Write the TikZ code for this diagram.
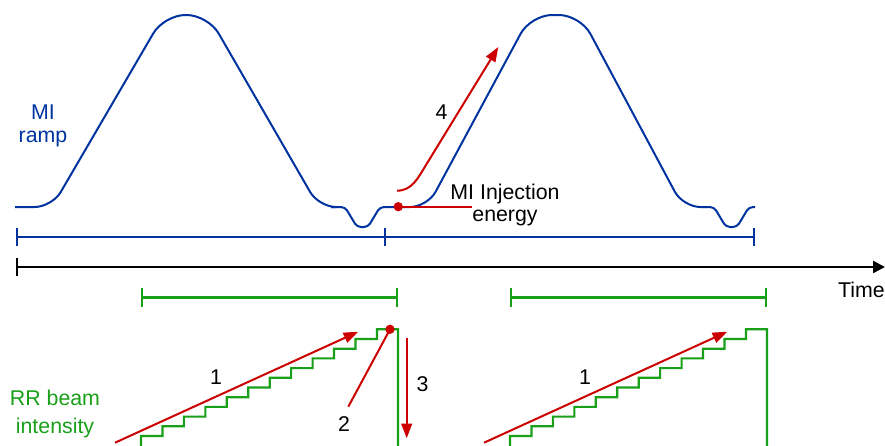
\documentclass[tikz,border=0pt]{standalone}
\usepackage{fontspec}
\setmainfont{Liberation Sans}
\usepackage{xcolor}
\usetikzlibrary{arrows.meta, positioning}

\definecolor{miblue}{RGB}{0,51,160}
\definecolor{rrgreen}{RGB}{24,160,24}
\definecolor{injred}{RGB}{204,0,0}

\begin{document}
\begin{tikzpicture}[
  x=0.75pt, y=-0.75pt,
  every node/.style={inner sep=0pt, font=\fontsize{16}{16.8}\selectfont},
  lbl/.style={align=center, anchor=base},
  ramp/.style={miblue, line width=1.5pt},
  stack/.style={rrgreen, line width=1.6pt},
  span/.style={{Bar[width=14pt]}-{Bar[width=14pt]}},
  redline/.style={injred, line width=1.5pt},
  move/.style={redline, -{Triangle[length=11pt, width=8pt]}},
  reddot/.style={circle, fill=injred, minimum size=7pt}
]
\useasboundingbox (0,0) rectangle (885,446);

% MI ramp
\foreach \st/\bl/\tl/\tr/\br/\en in {15/52/164/208/318.8/331, 386/427.4/530.7/580.3/683/700} {
  \draw[ramp, rounded corners=13pt] (\st,207) -- (\bl,207) -- ({(\bl+\tl)/2},111);
  \draw[ramp, rounded corners=16pt] ({(\bl+\tl)/2},111) -- (\tl,15) -- (\tr,15) -- ({(\tr+\br)/2},111);
  \draw[ramp, rounded corners=13pt] ({(\tr+\br)/2},111) -- (\br,207) -- (\en,207);
}
\foreach \d in {0,369}
  \draw[ramp, rounded corners=3pt] (331+\d,207) -- (345+\d,207) -- (357+\d,227) -- (368+\d,227) -- (380+\d,207) -- (386+\d,207);
\node[lbl, miblue] (miramp) at (43,142) {MI\\ramp};

\coordinate (mi0) at (16,237);
\coordinate (mi1) at (386,237);
\coordinate (mi2) at (755,237);
\draw[ramp, span] (mi0) -- (mi1);
\draw[ramp, -{Bar[width=14pt]}] (mi1) -- (mi2);

% time axis
\coordinate (t0) at (16,267);
\coordinate (t1) at (885,267);
\draw[line width=1.8pt, {Bar[width=14pt]}-{Triangle[length=9pt, width=9pt]}] (t0) -- (t1);
\node[anchor=base east] (time) at (885,297) {Time};

% injection
\node[reddot] (inj) at (398.3,206.7) {};
\coordinate (injend) at (472,206.7);
\draw[redline] (inj.center) -- (injend);
\node[lbl] (injlbl) at (505,221.7) {MI Injection\\energy};
\coordinate (r4a) at (397,190.7);
\coordinate (r4b) at (426,165);
\coordinate (r4c) at (498.3,47);
\draw[move] (r4a) .. controls (412,190.7) and (418,178) .. (r4b) -- (r4c);
\node (n4) at (441.5,112) {4};

% RR fills
\foreach \s in {0,369} {
  \coordinate (rra\s) at (141+\s,297.5);
  \coordinate (rrb\s) at (398+\s,297.5);
  \draw[stack, span] (rra\s) -- (rrb\s);
  \draw[stack] (141+\s,446) -- (141+\s,436)
    \foreach \i in {1,...,11} { -- ({141+\s+21.45*\i},{436-9.7*(\i-1)}) -- ++(0,-9.7) }
    -- (398+\s,329.3) -- (398+\s,446);
  \coordinate (up\s) at (115+\s,442.7);
  \coordinate (upend\s) at (358.3+\s,331.7);
  \draw[move] (up\s) -- (upend\s);
  \node (n1\s) at (216+\s,376.7) {1};
}

\node[reddot] (full) at (390,329.3) {};
\coordinate (r2) at (348.3,406.7);
\draw[redline] (r2) -- (full.center);
\node (n2) at (344,424) {2};
\coordinate (r3a) at (406.7,338.3);
\coordinate (r3b) at (406.7,438.3);
\draw[move] (r3a) -- (r3b);
\node (n3) at (422.5,384) {3};
\node[lbl, rrgreen] (rrlbl) at (55,433) {RR beam\\[3.5pt]intensity};
\end{tikzpicture}
\end{document}
